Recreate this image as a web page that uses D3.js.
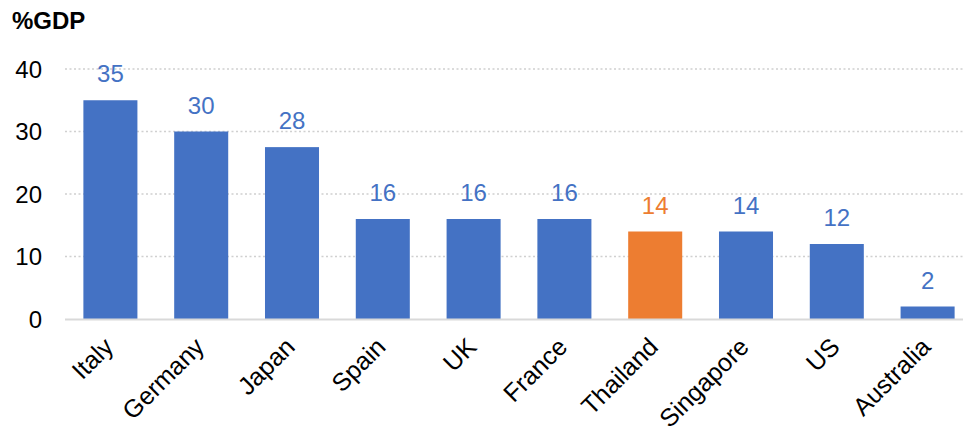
<!DOCTYPE html>
<html>
<head>
<meta charset="utf-8">
<script src="https://cdn.jsdelivr.net/npm/d3@7"></script>
<style>
  html, body { margin: 0; padding: 0; background: #fff; }
  svg { display: block; font-family: "Liberation Sans", Arial, sans-serif; }
</style>
</head>
<body>
<svg id="chart" width="963" height="437"></svg>
<script>
const categories = ["Italy", "Germany", "Japan", "Spain", "UK", "France", "Thailand", "Singapore", "US", "Australia"];
const values = [35, 30, 27.5, 16, 16, 16, 14, 14, 12, 2];
const highlight = ["Thailand"];
const yTicks = [0, 10, 20, 30, 40];
const yLabel = "%GDP";

const svg = d3.select("#chart");
const plot = { left: 65, right: 963, top: 69, bottom: 319 };

const x = d3.scaleBand()
  .domain(categories)
  .range([plot.left, 973])
  .paddingInner(0.405)
  .paddingOuter(0.2025);

const y = d3.scaleLinear().domain([0, 40]).range([plot.bottom, plot.top]);

const blue = "#4472C4", orange = "#ED7D31";
const colorOf = c => highlight.includes(c) ? orange : blue;

// gridlines
svg.append("g")
  .selectAll("line")
  .data(yTicks.filter(t => t > 0))
  .join("line")
  .attr("x1", plot.left).attr("x2", plot.right)
  .attr("y1", d => y(d)).attr("y2", d => y(d))
  .attr("stroke", "#d0d0d0")
  .attr("stroke-width", 1.3)
  .attr("stroke-dasharray", "2,2.5");

// y tick labels
svg.append("g")
  .selectAll("text")
  .data(yTicks)
  .join("text")
  .attr("x", 42)
  .attr("y", d => y(d))
  .attr("dy", "0.36em")
  .attr("text-anchor", "end")
  .attr("font-size", 24)
  .attr("fill", "#000")
  .text(d => d);

// bars
const data = categories.map((c, i) => ({ c, v: values[i] }));
svg.append("g")
  .selectAll("rect")
  .data(data)
  .join("rect")
  .attr("x", d => x(d.c))
  .attr("width", x.bandwidth())
  .attr("y", d => y(d.v))
  .attr("height", d => y(0) - y(d.v))
  .attr("fill", d => colorOf(d.c));

// axis line
svg.append("line")
  .attr("x1", plot.left).attr("x2", plot.right)
  .attr("y1", y(0) + 0.5).attr("y2", y(0) + 0.5)
  .attr("stroke", "#d9d9d9")
  .attr("stroke-width", 2);

// value labels
svg.append("g")
  .selectAll("text")
  .data(data)
  .join("text")
  .attr("x", d => x(d.c) + x.bandwidth() / 2)
  .attr("y", d => y(d.v) - 18)
  .attr("text-anchor", "middle")
  .attr("font-size", 24)
  .attr("fill", d => colorOf(d.c))
  .text(d => Math.round(d.v));

// category labels
svg.append("g")
  .selectAll("text")
  .data(categories)
  .join("text")
  .attr("transform", c => `translate(${x(c) + x.bandwidth() / 2 - 8},${y(0) + 17}) rotate(-45)`)
  .attr("text-anchor", "end")
  .attr("dy", "0.7em")
  .attr("font-size", 25)
  .attr("fill", "#000")
  .text(c => c);

// y label
svg.append("text")
  .attr("x", 12)
  .attr("y", 29)
  .attr("font-size", 24)
  .attr("font-weight", "bold")
  .attr("fill", "#000")
  .text(yLabel);
</script>
</body>
</html>
